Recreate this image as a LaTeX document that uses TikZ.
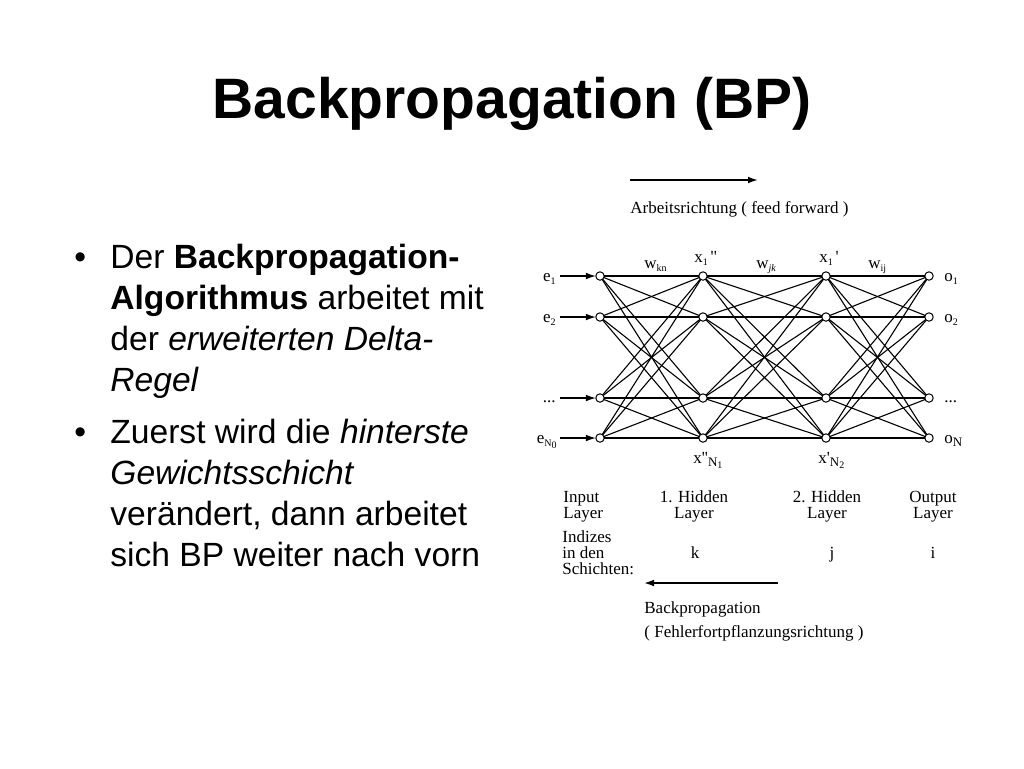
\documentclass[tikz,border=0pt]{standalone}
\usepackage{fontspec}
\setmainfont{Liberation Sans}
\newfontfamily\scanfont{Liberation Serif}[Ligatures=TeXOff]
\usepackage{tkz-graph}
\usetikzlibrary{positioning,arrows.meta}
% tiny lowered index, as in the scanned figure
\newcommand{\netsub}[1]{\raisebox{-0.45ex}{\fontsize{5}{5}\selectfont #1}}

\begin{document}
\begin{tikzpicture}[x=0.5pt,y=-0.5pt,
    netlabel/.style={inner sep=0pt,font=\scanfont\fontsize{8.5}{8}\selectfont},
    bullettext/.style={inner sep=0pt,align=left,font=\fontsize{16.8}{20.5}\selectfont},
    feed/.style={-{Latex[length=5pt,width=3.4pt]},line width=0.6pt}]
      % the slide itself, 1024 x 768 pixels, y going down
      \useasboundingbox[fill=white] (0,0) rectangle (1024,768);
      \node[inner sep=0pt,anchor=base,font=\fontsize{28.5}{34}\selectfont\bfseries] (title) at (512,118) {Backpropagation (BP)};
      % the two bullets on the left (base of a node with several lines = its last line)
      \node[bullettext,anchor=base west] (dot1) at (74,268) {\textbullet};
      \node[bullettext,anchor=base west] (bp1) at (110,391) {Der \textbf{Backpropagation-}\\
        \textbf{Algorithmus} arbeitet mit\\ der \textit{erweiterten Delta-}\\ \textit{Regel}};
      \node[bullettext,anchor=base west] (dot2) at (74,443) {\textbullet};
      \node[bullettext,anchor=base west] (bp2) at (110,566) {Zuerst wird die \textit{hinterste}\\
        \textit{Gewichtsschicht}\\ verändert, dann arbeitet\\ sich BP weiter nach vorn};
      % the net: small open circles, I = input, H = 1. hidden, J = 2. hidden, O = output
      \GraphInit[vstyle=Classic]
      \tikzset{VertexStyle/.style={draw=black,circle,fill=white,line width=0.5pt,
            inner sep=0pt,minimum size=4.2pt}}
      \tikzset{EdgeStyle/.style={draw=black,line width=0.55pt}}
      \foreach \r/\y in {1/276,2/317,3/398,4/438}{
        \Vertex[x=600,y=\y,NoLabel]{I\r}
        \Vertex[x=703,y=\y,NoLabel]{H\r}
        \Vertex[x=826,y=\y,NoLabel]{J\r}
        \Vertex[x=929,y=\y,NoLabel]{O\r}
        \coordinate (in\r) at (560,\y);
        \draw[feed] (in\r) -- (I\r);
      }
      % every circle is joined to every circle of the next layer
      \foreach \a in {1,...,4}{
        \foreach \b in {1,...,4}{
          \Edge(I\a)(H\b)
          \Edge(H\a)(J\b)
          \Edge(J\a)(O\b)
        }
      }
      % inputs and outputs
      \node[netlabel,anchor=base east] (le1) at (556,281) {e\netsub{1}};
      \node[netlabel,anchor=base east] (le2) at (556,322) {e\netsub{2}};
      \node[netlabel,anchor=base east] (le3) at (556,402) {...};
      \node[netlabel,anchor=base east] (le4) at (557,443) {e\netsub{N\netsub{0}}};
      \node[netlabel,anchor=base west] (lo1) at (944,281) {o\netsub{1}};
      \node[netlabel,anchor=base west] (lo2) at (944,322) {o\netsub{2}};
      \node[netlabel,anchor=base west] (lo3) at (944,402) {...};
      \node[netlabel,anchor=base west] (lo4) at (944,443) {o\raisebox{-0.4ex}{\fontsize{6.5}{6}\selectfont N}};
      % weights and units above and below
      \node[netlabel,anchor=base west] (wkn) at (644,268) {w\netsub{kn}};
      \node[netlabel,anchor=base west] (wjk) at (756,268) {w\netsub{\textit{jk}}};
      \node[netlabel,anchor=base west] (wij) at (868,268) {w\netsub{ij}};
      \node[netlabel,anchor=base west] (xk1) at (694,262) {x\netsub{1}\,''};
      \node[netlabel,anchor=base west] (xj1) at (819,262) {x\netsub{1}\,'};
      \node[netlabel,anchor=base west] (xkN) at (693,463) {x''\raisebox{-0.4ex}{\fontsize{6.5}{6}\selectfont N\netsub{1}}};
      \node[netlabel,anchor=base west] (xjN) at (818,463) {x'\raisebox{-0.4ex}{\fontsize{6.5}{6}\selectfont N\netsub{2}}};
      % direction of work
      \coordinate (ffa) at (630,180);
      \coordinate (ffb) at (758,180);
      \draw[feed,line width=0.8pt] (ffa) -- (ffb);
      \node[netlabel,anchor=base west] (ffname) at (630,213) {Arbeitsrichtung ( feed forward )};
      % layers and their indices
      \node[netlabel,align=left,anchor=base west] (linput) at (563,518) {Input\\ Layer};
      \node[netlabel,align=center,anchor=base] (lhid1) at (694,518) {1. Hidden\\ Layer};
      \node[netlabel,align=center,anchor=base] (lhid2) at (827,518) {2. Hidden\\ Layer};
      \node[netlabel,align=center,anchor=base] (lout) at (933,518) {Output\\ Layer};
      \node[netlabel,align=left,anchor=base west,font=\scanfont\fontsize{8.5}{7.8}\selectfont] (lidx) at (562,574) {Indizes\\ in den\\ Schichten:};
      \node[netlabel,anchor=base] (ik) at (695,558) {k};
      \node[netlabel,anchor=base] (ij) at (832,558) {j};
      \node[netlabel,anchor=base] (ii) at (933,558) {i};
      % back propagation
      \coordinate (bpa) at (778,583);
      \coordinate (bpb) at (644,583);
      \draw[feed,line width=0.8pt] (bpa) -- (bpb);
      \node[netlabel,align=left,anchor=base west,font=\scanfont\fontsize{8.5}{12}\selectfont] (bpname) at (644,637) {Backpropagation\\ ( Fehlerfortpflanzungsrichtung )};
    \end{tikzpicture}
\end{document}
